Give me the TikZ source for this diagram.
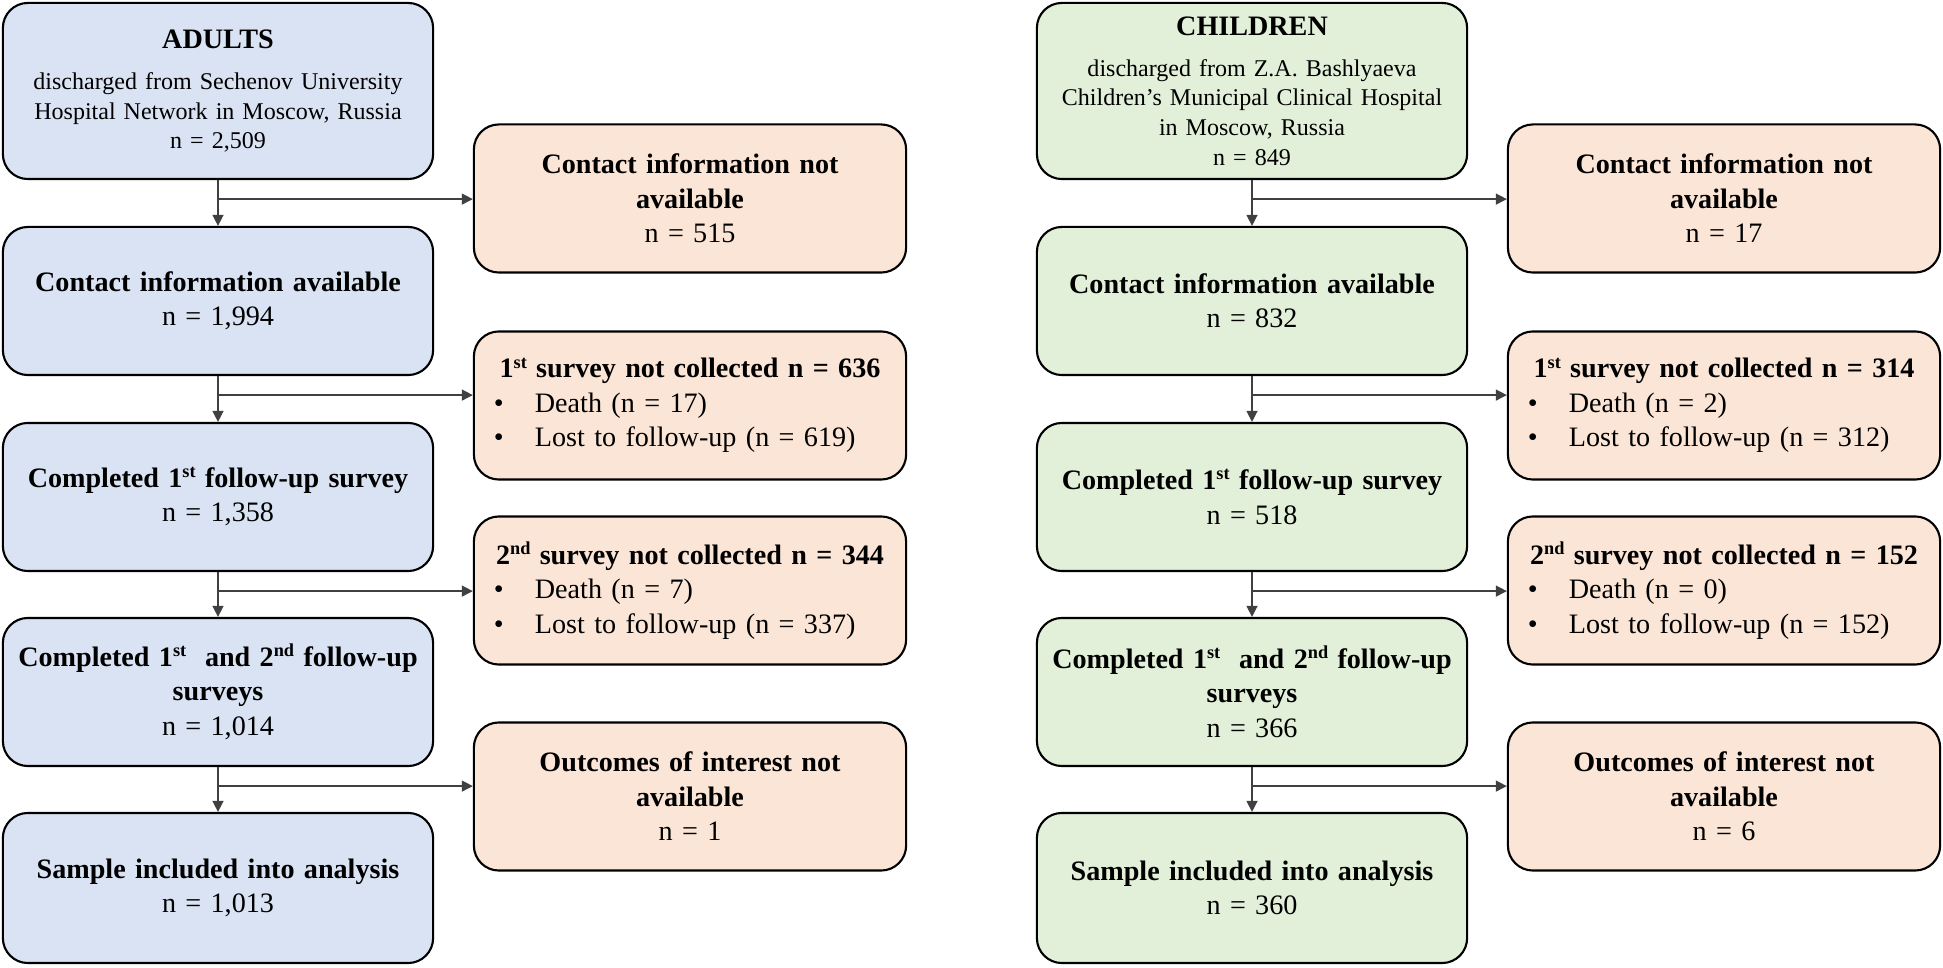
\documentclass[tikz,border=0pt]{standalone}
\usepackage{fontspec}
\setmainfont{Liberation Serif}
\usetikzlibrary{arrows.meta,calc}

\definecolor{adultblue}{HTML}{DAE3F3}
\definecolor{childgreen}{HTML}{E2F0D9}
\definecolor{exclpeach}{HTML}{FBE5D6}

\newcommand{\bitem}[1]{\makebox[4.32cm][l]{\hspace{0.2cm}\makebox[0.41cm][l]{\textbullet}#1}}
\newcommand{\sups}[1]{\raisebox{0.34em}{\fontsize{5.2}{5.2}\selectfont #1}}

\begin{document}
\begin{tikzpicture}[x=0.01cm, y=-0.01cm,
box/.style = {draw=black, line width=0.6pt, rounded corners=0.25cm, inner sep=0pt, align=center, font=\fontsize{8}{9.8}\selectfont},
adult/.style = {box, fill=adultblue, text width=4.3cm, minimum height=1.48cm},
child/.style = {box, fill=childgreen, text width=4.3cm, minimum height=1.48cm},
excl/.style = {box, fill=exclpeach, text width=4.32cm, minimum height=1.48cm},
head/.style = {minimum height=1.76cm, font=\fontsize{6.83}{8.4}\selectfont},
flow/.style = {draw=black!75, line width=0.4pt, -{Triangle[length=0.11cm, width=0.11cm]}},
]
\useasboundingbox (0,0) rectangle (1943,968);

% Adults column
\node[adult, head] (a1) at (218,91) {{\fontsize{8}{8.4}\selectfont\bfseries ADULTS}\\[3.3pt] discharged from Sechenov University\\ Hospital Network in Moscow, Russia\\ n = 2,509};
\node[adult] (a2) at (218,301) {\textbf{Contact information available}\\ n = 1,994};
\node[adult] (a3) at (218,497) {\textbf{Completed 1\sups{st} follow-up survey}\\ n = 1,358};
\node[adult] (a4) at (218,692) {\textbf{Completed 1\sups{st}\ \ and 2\sups{nd} follow-up}\\ \textbf{surveys}\\ n = 1,014};
\node[adult, minimum height=1.5cm] (a5) at (218,888) {\textbf{Sample included into analysis}\\ n = 1,013};

\node[excl] (ax1) at (690,198.5) {\textbf{Contact information not}\\ \textbf{available}\\ n = 515};
\node[excl] (ax2) at (690,405.5) {\textbf{1\sups{st} survey not collected n = 636}\\ \bitem{Death (n = 17)}\\ \bitem{Lost to follow-up (n = 619)}};
\node[excl] (ax3) at (690,590.5) {\textbf{2\sups{nd} survey not collected n = 344}\\ \bitem{Death (n = 7)}\\ \bitem{Lost to follow-up (n = 337)}};
\node[excl] (ax4) at (690,796.5) {\textbf{Outcomes of interest not}\\ \textbf{available}\\ n = 1};

% Children column
\node[child, head] (c1) at (1252,91) {{\fontsize{8}{8.4}\selectfont\bfseries CHILDREN}\\[3.3pt] discharged from Z.A. Bashlyaeva\\ Children's Municipal Clinical Hospital\\ in Moscow, Russia\\ n = 849};
\node[child] (c2) at (1252,301) {\textbf{Contact information available}\\ n = 832};
\node[child] (c3) at (1252,497) {\textbf{Completed 1\sups{st} follow-up survey}\\ n = 518};
\node[child] (c4) at (1252,692) {\textbf{Completed 1\sups{st}\ \ and 2\sups{nd} follow-up}\\ \textbf{surveys}\\ n = 366};
\node[child, minimum height=1.5cm] (c5) at (1252,888) {\textbf{Sample included into analysis}\\ n = 360};

\node[excl] (cx1) at (1724,198.5) {\textbf{Contact information not}\\ \textbf{available}\\ n = 17};
\node[excl] (cx2) at (1724,405.5) {\textbf{1\sups{st} survey not collected n = 314}\\ \bitem{Death (n = 2)}\\ \bitem{Lost to follow-up (n = 312)}};
\node[excl] (cx3) at (1724,590.5) {\textbf{2\sups{nd} survey not collected n = 152}\\ \bitem{Death (n = 0)}\\ \bitem{Lost to follow-up (n = 152)}};
\node[excl] (cx4) at (1724,796.5) {\textbf{Outcomes of interest not}\\ \textbf{available}\\ n = 6};

% Branch points
\coordinate (ab1) at ($(a1.south)+(0,19)$);
\coordinate (ab2) at ($(a2.south)+(0,19)$);
\coordinate (ab3) at ($(a3.south)+(0,19)$);
\coordinate (ab4) at ($(a4.south)+(0,19)$);
\coordinate (cb1) at ($(c1.south)+(0,19)$);
\coordinate (cb2) at ($(c2.south)+(0,19)$);
\coordinate (cb3) at ($(c3.south)+(0,19)$);
\coordinate (cb4) at ($(c4.south)+(0,19)$);

% Draw flow
\draw[flow] (a1.south) -- (a2.north);
\draw[flow] (a2.south) -- (a3.north);
\draw[flow] (a3.south) -- (a4.north);
\draw[flow] (a4.south) -- (a5.north);
\draw[flow] (ab1) -- (ab1 -| ax1.west);
\draw[flow] (ab2) -- (ab2 -| ax2.west);
\draw[flow] (ab3) -- (ab3 -| ax3.west);
\draw[flow] (ab4) -- (ab4 -| ax4.west);

\draw[flow] (c1.south) -- (c2.north);
\draw[flow] (c2.south) -- (c3.north);
\draw[flow] (c3.south) -- (c4.north);
\draw[flow] (c4.south) -- (c5.north);
\draw[flow] (cb1) -- (cb1 -| cx1.west);
\draw[flow] (cb2) -- (cb2 -| cx2.west);
\draw[flow] (cb3) -- (cb3 -| cx3.west);
\draw[flow] (cb4) -- (cb4 -| cx4.west);

\end{tikzpicture}
\end{document}
